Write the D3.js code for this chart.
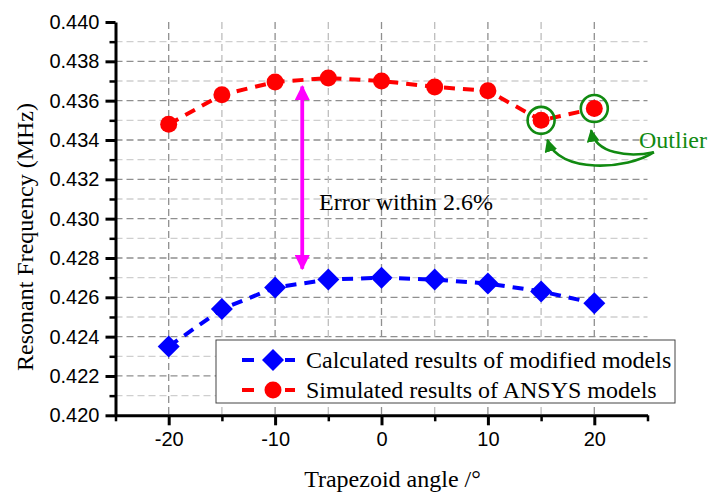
<!DOCTYPE html>
<html lang="en">
<head>
<meta charset="utf-8">
<script src="https://d3js.org/d3.v7.min.js"></script>
<style>
    body { margin: 0; background: #fff; }
    .axis text { font-family: "Liberation Sans", Arial, sans-serif; font-size: 20px; fill: #000; }
    .axis path, .axis line { stroke: #000; }
    .serif { font-family: "Liberation Serif", "Times New Roman", serif; font-size: 24px; }
</style>
</head>
<body>
<div id="chart"></div>
<script>
    // data
    var angles = [-20, -15, -10, -5, 0, 5, 10, 15, 20];
    var calculated = [0.4235, 0.4254, 0.4265, 0.4269, 0.4270, 0.4269, 0.4267, 0.4263, 0.4257];
    var simulated = [0.4348, 0.4363, 0.43695, 0.43715, 0.4370, 0.4367, 0.4365, 0.4350, 0.4356];
    var seriesNames = ["Calculated results of modified models", "Simulated results of ANSYS models"];
    var xTicks = [-20, -10, 0, 10, 20];
    var xMinor = [-25, -15, -5, 5, 15, 25];
    var yTicks = [0.420, 0.422, 0.424, 0.426, 0.428, 0.430, 0.432, 0.434, 0.436, 0.438, 0.440];
    var yMinor = [0.421, 0.423, 0.425, 0.427, 0.429, 0.431, 0.433, 0.435, 0.437, 0.439];
    var outlierAngles = [15, 20];

    var W = 713, H = 496;
    var x = d3.scaleLinear().domain([-25, 25]).range([115.5, 647.5]);
    var y = d3.scaleLinear().domain([0.420, 0.440]).range([415.3, 22]);

    var svg = d3.select("#chart").append("svg")
        .attr("width", W).attr("height", H);

    var defs = svg.append("defs");
    defs.append("marker").attr("id", "magHead")
        .attr("viewBox", "0 0 10 10").attr("refX", 9).attr("refY", 5)
        .attr("markerWidth", 4).attr("markerHeight", 4)
        .attr("markerUnits", "strokeWidth")
        .attr("orient", "auto-start-reverse")
        .append("path").attr("d", "M0,0L10,5L0,10z").attr("fill", "#ff00ff");
    defs.append("marker").attr("id", "greenHead")
        .attr("viewBox", "0 0 10 10").attr("refX", 9).attr("refY", 5)
        .attr("markerWidth", 5).attr("markerHeight", 5)
        .attr("markerUnits", "strokeWidth")
        .attr("orient", "auto")
        .append("path").attr("d", "M0,0L10,5L0,10z").attr("fill", "#118a11");

    // grid
    var grid = svg.append("g");
    var hLines = yTicks.concat(yMinor).filter(function(v) { return v > 0.4205 && v < 0.4395; });
    grid.selectAll(".hg").data(hLines).enter().append("line")
        .attr("x1", x(-25)).attr("x2", x(25))
        .attr("y1", function(d) { return y(d); }).attr("y2", function(d) { return y(d); })
        .attr("stroke", function(d) { return yMinor.indexOf(d) >= 0 ? "#cfcfcf" : "#8f8f8f"; })
        .attr("stroke-width", 1.3)
        .attr("stroke-dasharray", "7,4");
    var vLines = [-20, -15, -10, -5, 0, 5, 10, 15, 20];
    grid.selectAll(".vg").data(vLines).enter().append("line")
        .attr("x1", function(d) { return x(d); }).attr("x2", function(d) { return x(d); })
        .attr("y1", y(0.440)).attr("y2", y(0.420))
        .attr("stroke", function(d) { return d % 10 === 0 ? "#8f8f8f" : "#bdbdbd"; })
        .attr("stroke-width", 1.3)
        .attr("stroke-dasharray", "7,4");

    // series lines
    var line = d3.line().x(function(d) { return x(d[0]); }).y(function(d) { return y(d[1]); });
    var blueData = angles.map(function(a, i) { return [a, calculated[i]]; });
    var redData = angles.map(function(a, i) { return [a, simulated[i]]; });

    svg.append("path").datum(blueData).attr("d", line)
        .attr("fill", "none").attr("stroke", "#0000ff").attr("stroke-width", 4)
        .attr("stroke-dasharray", "11,8");
    svg.append("path").datum(redData).attr("d", line)
        .attr("fill", "none").attr("stroke", "#ff0000").attr("stroke-width", 4)
        .attr("stroke-dasharray", "11,8");

    var diamond = d3.symbol().type(d3.symbolSquare).size(242);
    svg.selectAll(".bm").data(blueData).enter().append("path")
        .attr("d", diamond)
        .attr("transform", function(d) { return "translate(" + x(d[0]) + "," + y(d[1]) + ") rotate(45)"; })
        .attr("fill", "#0000ff");
    svg.selectAll(".rm").data(redData).enter().append("circle")
        .attr("cx", function(d) { return x(d[0]); }).attr("cy", function(d) { return y(d[1]); })
        .attr("r", 8.5).attr("fill", "#ff0000");

    // outlier rings
    svg.selectAll(".ring").data(outlierAngles).enter().append("circle")
        .attr("cx", function(d) { return x(d); })
        .attr("cy", function(d) { return y(simulated[angles.indexOf(d)]); })
        .attr("r", 13.5).attr("fill", "none")
        .attr("stroke", "#118a11").attr("stroke-width", 2.6);

    // green curved arrows (data units)
    var curves = [
        [[25.6, 0.43338], [23.2, 0.43250], [16.6, 0.43225], [15.6, 0.43400]],
        [[25.6, 0.43338], [23.2, 0.43310], [20.1, 0.43330], [19.7, 0.43450]]
    ];
    svg.selectAll(".curve").data(curves).enter().append("path")
        .attr("d", function(c) {
            return "M" + x(c[0][0]) + "," + y(c[0][1]) +
                "C" + x(c[1][0]) + "," + y(c[1][1]) + " " +
                x(c[2][0]) + "," + y(c[2][1]) + " " +
                x(c[3][0]) + "," + y(c[3][1]);
        })
        .attr("fill", "none").attr("stroke", "#118a11").attr("stroke-width", 2.6)
        .attr("marker-end", "url(#greenHead)");

    svg.append("text").attr("class", "serif")
        .attr("x", x(24.2)).attr("y", y(0.43360))
        .attr("fill", "#118a11").text("Outlier");

    // error arrow
    svg.append("line")
        .attr("x1", x(-7.45)).attr("x2", x(-7.45))
        .attr("y1", y(0.43672)).attr("y2", y(0.42745))
        .attr("stroke", "#ff00ff").attr("stroke-width", 3.8)
        .attr("marker-start", "url(#magHead)").attr("marker-end", "url(#magHead)");
    svg.append("text").attr("class", "serif")
        .attr("x", 319).attr("y", 210)
        .attr("fill", "#000").text("Error within 2.6%");

    // axes
    svg.append("g").attr("class", "axis")
        .attr("transform", "translate(" + x(-25) + ",0)")
        .call(d3.axisLeft(y).tickValues(yTicks).tickSize(10).tickSizeOuter(0).tickPadding(6)
            .tickFormat(function(d) { return d.toFixed(3); }))
        .call(function(g) { g.selectAll("line").attr("stroke-width", 3); g.select(".domain").attr("stroke-width", 3); });
    svg.append("g").attr("class", "axis")
        .attr("transform", "translate(" + x(-25) + ",0)")
        .call(d3.axisLeft(y).tickValues(yMinor).tickSize(6).tickSizeOuter(0).tickFormat(""))
        .call(function(g) { g.selectAll("line").attr("stroke-width", 2.5); g.select(".domain").remove(); });

    svg.append("g").attr("class", "axis")
        .attr("transform", "translate(0," + y(0.420) + ")")
        .call(d3.axisBottom(x).tickValues(xTicks).tickSize(10).tickSizeOuter(0).tickPadding(6.5)
            .tickFormat(function(d) { return String(d); }))
        .call(function(g) { g.selectAll("line").attr("stroke-width", 3); g.select(".domain").attr("stroke-width", 3); });
    svg.append("g").attr("class", "axis")
        .attr("transform", "translate(0," + y(0.420) + ")")
        .call(d3.axisBottom(x).tickValues(xMinor).tickSize(6).tickSizeOuter(0).tickFormat(""))
        .call(function(g) { g.selectAll("line").attr("stroke-width", 2.5); g.select(".domain").remove(); });

    // axis titles
    svg.append("text").attr("class", "serif")
        .attr("x", 392.5).attr("y", 487).attr("text-anchor", "middle")
        .text("Trapezoid angle /\u00b0");
    svg.append("text").attr("class", "serif")
        .attr("transform", "translate(33,237) rotate(-90)")
        .attr("text-anchor", "middle")
        .text("Resonant Frequency (MHz)");

    // legend
    var legend = svg.append("g").attr("transform", "translate(216,340)");
    legend.append("rect").attr("width", 459).attr("height", 63)
        .attr("fill", "#fff").attr("stroke", "#444").attr("stroke-width", 1);
    var items = legend.selectAll(".li").data(seriesNames).enter().append("g")
        .attr("transform", function(d, i) { return "translate(0," + (20 + i * 30) + ")"; });
    items.append("line").attr("x1", 26).attr("x2", 38)
        .attr("stroke", function(d, i) { return i ? "#ff0000" : "#0000ff"; }).attr("stroke-width", 4);
    items.append("line").attr("x1", 69).attr("x2", 79)
        .attr("stroke", function(d, i) { return i ? "#ff0000" : "#0000ff"; }).attr("stroke-width", 4);
    items.append("path")
        .attr("d", function(d, i) { return i ? d3.symbol().type(d3.symbolCircle).size(227)() : diamond(); })
        .attr("transform", function(d, i) { return "translate(57,0)" + (i ? "" : " rotate(45)"); })
        .attr("fill", function(d, i) { return i ? "#ff0000" : "#0000ff"; });
    items.append("text").attr("class", "serif")
        .attr("x", 90).attr("dy", "0.33em")
        .text(function(d) { return d; });
</script>
</body>
</html>
